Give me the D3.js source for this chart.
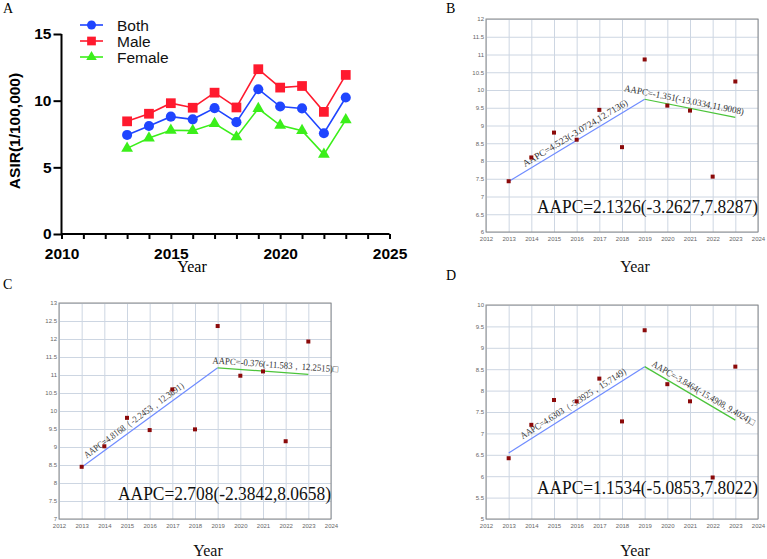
<!DOCTYPE html>
<html lang="en">
<head>
  <meta charset="UTF-8">
  <title>ASIR trends and joinpoint AAPC</title>
  <style>
    body { margin: 0; background: #fff; }
    svg { display: block; background: #fff; }
    .serif { font-family: "Liberation Serif", "Times New Roman", "DejaVu Serif", serif; }
    .sans { font-family: "Liberation Sans", Arial, sans-serif; }
  </style>
</head>
<body>
  <svg width="767" height="559"></svg>
  <script src="https://d3js.org/d3.v7.min.js"></script>
  <script>
  // ---- data ----
  const years = [2013, 2014, 2015, 2016, 2017, 2018, 2019, 2020, 2021, 2022, 2023];
  const both = [7.43, 8.10, 8.80, 8.60, 9.44, 8.39, 10.86, 9.56, 9.42, 7.56, 10.24];
  const male = [8.45, 9.02, 9.81, 9.47, 10.60, 9.49, 12.36, 10.98, 11.10, 9.16, 11.93];
  const female = [6.42, 7.20, 7.78, 7.75, 8.28, 7.28, 9.41, 8.15, 7.75, 5.97, 8.56];

  // joinpoint fitted segments (2013 -> 2019 -> 2023)
  const joinYears = [2013, 2019, 2023];
  const segBoth = [7.42, 9.74, 9.23];
  const segMale = [8.44, 11.20, 11.02];
  const segFemale = [6.54, 8.56, 7.31];

  const annBoth = ["AAPC=4.523(-3.0724,12.7136)", "AAPC=-1.351(-13.0334,11.9008)"];
  const annMale = ["AAPC=4.8168（-2.2453，12.3891）", "AAPC=-0.376(-11.583，12.2515)□"];
  const annFemale = ["AAPC=4.6303（-5.3925，15.7149）", "AAPC=-3.8464(-15.4908, 9.4024)□"];
  const totalAAPC = ["AAPC=2.1326(-3.2627,7.8287)", "AAPC=2.708(-2.3842,8.0658)", "AAPC=1.1534(-5.0853,7.8022)"];

  const svg = d3.select("svg");

  // ---------------- panel A ----------------
  (function () {
    const x = d3.scaleLinear().domain([2010, 2025]).range([61.5, 389.5]);
    const y = d3.scaleLinear().domain([0, 15]).range([234, 34]);
    const g = svg.append("g");

    g.append("text").attr("class", "serif").attr("x", 3).attr("y", 13)
      .style("font-size", "14px").text("A");

    const xa = g.append("g").attr("transform", `translate(0,${y(0)})`)
      .call(d3.axisBottom(x).tickValues(d3.range(2010, 2026)).tickSize(5).tickPadding(9)
        .tickFormat(d => d % 5 === 0 ? d : ""));
    const ya = g.append("g").attr("transform", `translate(${x(2010)},0)`)
      .call(d3.axisLeft(y).tickValues([0, 5, 10, 15]).tickSize(8).tickPadding(2));
    [xa, ya].forEach(a => {
      a.select(".domain").attr("stroke", "#000").attr("stroke-width", 2);
      a.selectAll(".tick line").attr("stroke", "#000").attr("stroke-width", 2);
      a.selectAll("text").attr("class", "sans").attr("fill", "#000")
        .style("font-size", "15.5px").style("font-weight", "bold");
    });
    ya.select(".domain").attr("d", `M-0,${y(15)}V${y(0)}`);
    xa.select(".domain").attr("d", `M${x(2010)},0H${x(2025)}`);

    g.append("text").attr("class", "sans")
      .attr("transform", `translate(20,131) rotate(-90)`)
      .attr("text-anchor", "middle")
      .style("font-size", "15.5px").style("font-weight", "bold")
      .text("ASIR(1/100,000)");

    g.append("text").attr("class", "serif").attr("x", 192).attr("y", 272)
      .attr("text-anchor", "middle").style("font-size", "16px").text("Year");

    const series = [
      { name: "Both", values: both, color: "#1f45ff", shape: d3.symbolCircle, size: 80 },
      { name: "Male", values: male, color: "#ff1a2e", shape: d3.symbolSquare, size: 95 },
      { name: "Female", values: female, color: "#3bef1a", shape: d3.symbolTriangle, size: 60 }
    ];
    const line = d3.line().x((d, i) => x(years[i])).y(d => y(d));
    series.forEach(s => {
      g.append("path").datum(s.values).attr("d", line)
        .attr("fill", "none").attr("stroke", s.color).attr("stroke-width", 1.6);
      g.selectAll(null).data(s.values).join("path")
        .attr("transform", (d, i) => `translate(${x(years[i])},${y(d)})`)
        .attr("d", d3.symbol(s.shape, s.size)).attr("fill", s.color);
    });

    const leg = g.append("g");
    series.forEach((s, i) => {
      const ly = 25 + i * 16;
      leg.append("line").attr("x1", 80).attr("x2", 103).attr("y1", ly).attr("y2", ly)
        .attr("stroke", s.color).attr("stroke-width", 1.6);
      leg.append("path").attr("transform", `translate(91.5,${ly})`)
        .attr("d", d3.symbol(s.shape, s.size * 0.8)).attr("fill", s.color);
      leg.append("text").attr("class", "sans").attr("x", 117).attr("y", ly + 5.5)
        .style("font-size", "15.5px").attr("fill", "#111").text(s.name);
    });
  })();

  // ---------------- joinpoint panels B, C, D ----------------
  function joinpointPanel(o) {
    const x = d3.scaleLinear().domain([2012, 2024]).range([o.left, o.right]);
    const y = d3.scaleLinear().domain(o.yDomain).range([o.bottom, o.top]);
    const g = svg.append("g");
    const w = o.right - o.left, h = o.bottom - o.top;

    g.append("text").attr("class", "serif").attr("x", o.letterX).attr("y", o.letterY)
      .style("font-size", "14px").text(o.letter);

    const yTicks = d3.range(o.yDomain[0], o.yDomain[1] + 0.001, 0.5);
    const xa = g.append("g").attr("transform", `translate(0,${o.bottom})`)
      .call(d3.axisBottom(x).tickValues(d3.range(2012, 2025)).tickSize(-h).tickPadding(5)
        .tickFormat(d3.format("d")));
    const ya = g.append("g").attr("transform", `translate(${o.left},0)`)
      .call(d3.axisLeft(y).tickValues(yTicks).tickSize(-w).tickPadding(2)
        .tickFormat(d => String(d)));
    [xa, ya].forEach(a => {
      a.select(".domain").remove();
      a.selectAll(".tick line").attr("stroke", "#cdd6e2").attr("stroke-width", 1);
      a.selectAll("text").attr("class", "sans").attr("fill", "#666").style("font-size", "6px");
    });

    g.append("rect").attr("x", o.left).attr("y", o.top).attr("width", w).attr("height", h)
      .attr("fill", "none").attr("stroke", "#8a8a8a").attr("stroke-width", 1);

    // fitted segments
    const segColors = ["#6f8cff", "#4cc43a"];
    for (let k = 0; k < 2; k++) {
      const x1 = x(joinYears[k]), y1 = y(o.seg[k]);
      const x2 = x(joinYears[k + 1]), y2 = y(o.seg[k + 1]);
      g.append("line").attr("x1", x1).attr("y1", y1).attr("x2", x2).attr("y2", y2)
        .attr("stroke", segColors[k]).attr("stroke-width", 1.2);
      const ang = Math.atan2(y2 - y1, x2 - x1);
      const t = o.annT[k];
      const px = x1 + (x2 - x1) * t + Math.sin(ang) * o.annOff;
      const py = y1 + (y2 - y1) * t - Math.cos(ang) * o.annOff;
      g.append("text").attr("class", "serif")
        .attr("transform", `translate(${px},${py}) rotate(${ang * 180 / Math.PI})`)
        .attr("textLength", o.annLen[k]).attr("lengthAdjust", "spacingAndGlyphs")
        .style("font-size", "9.5px").attr("fill", "#333").text(o.ann[k]);
    }

    // observed points
    g.selectAll(null).data(o.values).join("rect")
      .attr("x", (d, i) => x(years[i]) - 2).attr("y", d => y(d) - 2)
      .attr("width", 4).attr("height", 4).attr("fill", "#8b0a0a");

    g.append("text").attr("class", "serif").attr("x", o.bigX).attr("y", o.bigY)
      .attr("textLength", o.bigLen).attr("lengthAdjust", "spacingAndGlyphs")
      .style("font-size", "18px").attr("fill", "#111").text(o.total);

    g.append("text").attr("class", "serif").attr("x", (o.left + o.right) / 2 + 13).attr("y", o.yearY)
      .attr("text-anchor", "middle").style("font-size", "16px").attr("fill", "#111").text("Year");
  }

  joinpointPanel({
    letter: "B", letterX: 446, letterY: 13,
    left: 486, right: 758, top: 19, bottom: 232, yDomain: [6, 12],
    values: both, seg: segBoth, ann: annBoth, total: totalAAPC[0],
    annT: [0.135, -0.24], annOff: 4, annLen: [121, 122],
    bigX: 537, bigY: 213, bigLen: 221, yearY: 272
  });
  joinpointPanel({
    letter: "C", letterX: 3, letterY: 289,
    left: 59, right: 331, top: 303, bottom: 519, yDomain: [7, 13],
    values: male, seg: segMale, ann: annMale, total: totalAAPC[1],
    annT: [0.054, -0.063], annOff: 4, annLen: [127, 126],
    bigX: 118, bigY: 500, bigLen: 213, yearY: 556
  });
  joinpointPanel({
    letter: "D", letterX: 446, letterY: 280,
    left: 486, right: 758, top: 305, bottom: 519, yDomain: [5, 10],
    values: female, seg: segFemale, ann: annFemale, total: totalAAPC[2],
    annT: [0.12, 0.05], annOff: 4, annLen: [129, 118],
    bigX: 537, bigY: 494, bigLen: 221, yearY: 556
  });
  </script>
</body>
</html>
